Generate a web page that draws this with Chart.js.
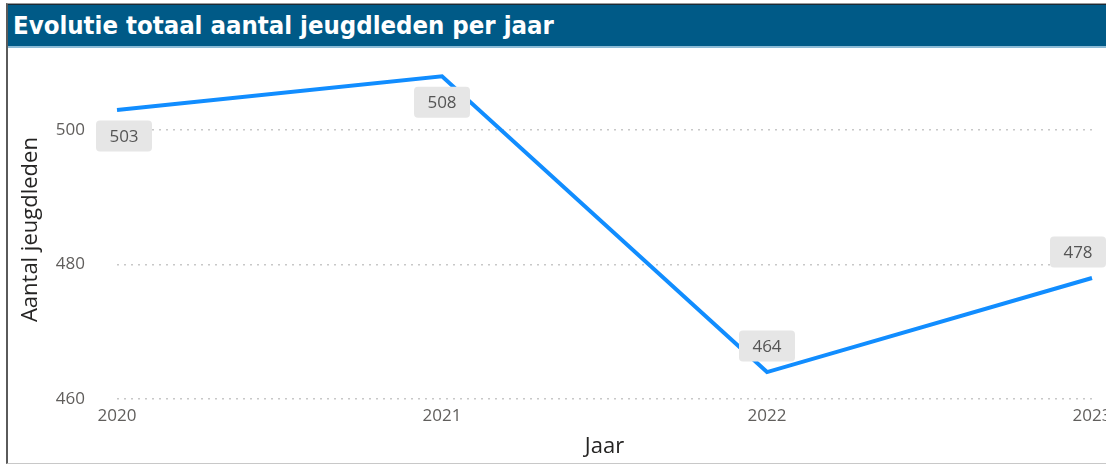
<!DOCTYPE html>
<html>
<head>
<meta charset="utf-8">
<script src="https://cdn.jsdelivr.net/npm/chart.js@4"></script>
<style>
html, body { margin: 0; padding: 0; background: #fff; overflow: hidden; width: 1106px; height: 465px; }
#frame { position: absolute; left: 6px; top: 3px; width: 1120px; height: 459px;
  border-left: 2px solid #5a5a5a; border-top: 1px solid #9a9a9a; border-bottom: 1px solid #c8c8c8; }
#titlebar { position: absolute; left: 0; top: 0; width: 1120px; height: 41px; background: #005a87;
  border-top: 1px solid #1b2a35; border-bottom: 2px solid #8cbbd6; color: #fff;
  font: bold 25.5px "DejaVu Sans Condensed", sans-serif; line-height: 41px; padding-left: 5px; }
#chartbox { position: absolute; left: 8px; top: 46px; width: 1130px; height: 419px; }
</style>
</head>
<body>
<div id="frame"><div id="titlebar">Evolutie totaal aantal jeugdleden per jaar</div></div>
<div id="chartbox"><canvas id="grafiek"></canvas></div>
<script>
// gegevens
var jaren = ["2020", "2021", "2022", "2023"];
var jeugdleden = [503, 508, 464, 478];
var yTicks = [460, 480, 500];
var labelPlaats = ["below", "below", "above", "above"];

var tickFont = { family: "Open Sans", size: 17 };
var titelFont = { family: "Open Sans", size: 22 };

// labels met grijze achtergrond zoals in Power BI
var waardeLabels = {
    id: "waardeLabels",
    afterDatasetsDraw: function (chart) {
        var ctx = chart.ctx;
        var meta = chart.getDatasetMeta(0);
        var area = chart.chartArea;
        var zichtbaarRechts = 1106 - 8;
        ctx.save();
        ctx.font = "17px 'Open Sans'";
        ctx.textAlign = "center";
        ctx.textBaseline = "middle";
        for (var i = 0; i < meta.data.length; i++) {
            var p = meta.data[i];
            var w = 56, h = 31;
            var cy = labelPlaats[i] == "below" ? p.y + 26 : p.y - 26;
            var bx = p.x - w / 2;
            if (bx < area.left - 21) bx = area.left - 21;
            if (bx + w > zichtbaarRechts) bx = zichtbaarRechts - w;
            ctx.fillStyle = "#e6e6e6";
            ctx.beginPath();
            ctx.roundRect(bx, cy - h / 2, w, h, 4);
            ctx.fill();
            ctx.fillStyle = "#555555";
            ctx.fillText(String(chart.data.datasets[0].data[i]), bx + w / 2, cy + 1);
        }
        ctx.restore();
    }
};

var grafiek = new Chart(document.getElementById("grafiek"), {
    type: "line",
    data: {
        labels: jaren,
        datasets: [{
            label: "Aantal jeugdleden",
            data: jeugdleden,
            borderColor: "#118DFF",
            borderWidth: 4,
            pointRadius: 0,
            tension: 0,
            fill: false
        }]
    },
    options: {
        responsive: true,
        maintainAspectRatio: false,
        animation: false,
        layout: { padding: { left: 0, right: 46, top: 10, bottom: 0 } },
        plugins: {
            legend: { display: false },
            tooltip: { enabled: false }
        },
        scales: {
            x: {
                offset: false,
                grid: { display: false, drawTicks: false },
                border: { display: false },
                ticks: { color: "#605e5c", font: tickFont, padding: 3, maxRotation: 0, autoSkip: false },
                title: { display: true, text: "Jaar", color: "#252423",
                    font: titelFont, padding: { top: 4, bottom: 5 } },
                afterFit: function (scale) { scale.height = 62; }
            },
            y: {
                min: 459.4,
                max: 511,
                grid: { color: "#c8c8c8", lineWidth: 1.5, drawTicks: true, tickLength: 32, tickColor: "rgba(0,0,0,0)" },
                border: { display: false, dash: [2, 5] },
                ticks: { color: "#605e5c", font: tickFont, padding: 0 },
                afterBuildTicks: function (scale) {
                    scale.ticks = yTicks.map(function (v) { return { value: v }; });
                },
                title: { display: true, text: "Aantal jeugdleden", color: "#252423",
                    font: titelFont, padding: { top: 10, bottom: 4 } },
                afterFit: function (scale) { scale.width = 109; }
            }
        }
    },
    plugins: [waardeLabels]
});
</script>
</body>
</html>
